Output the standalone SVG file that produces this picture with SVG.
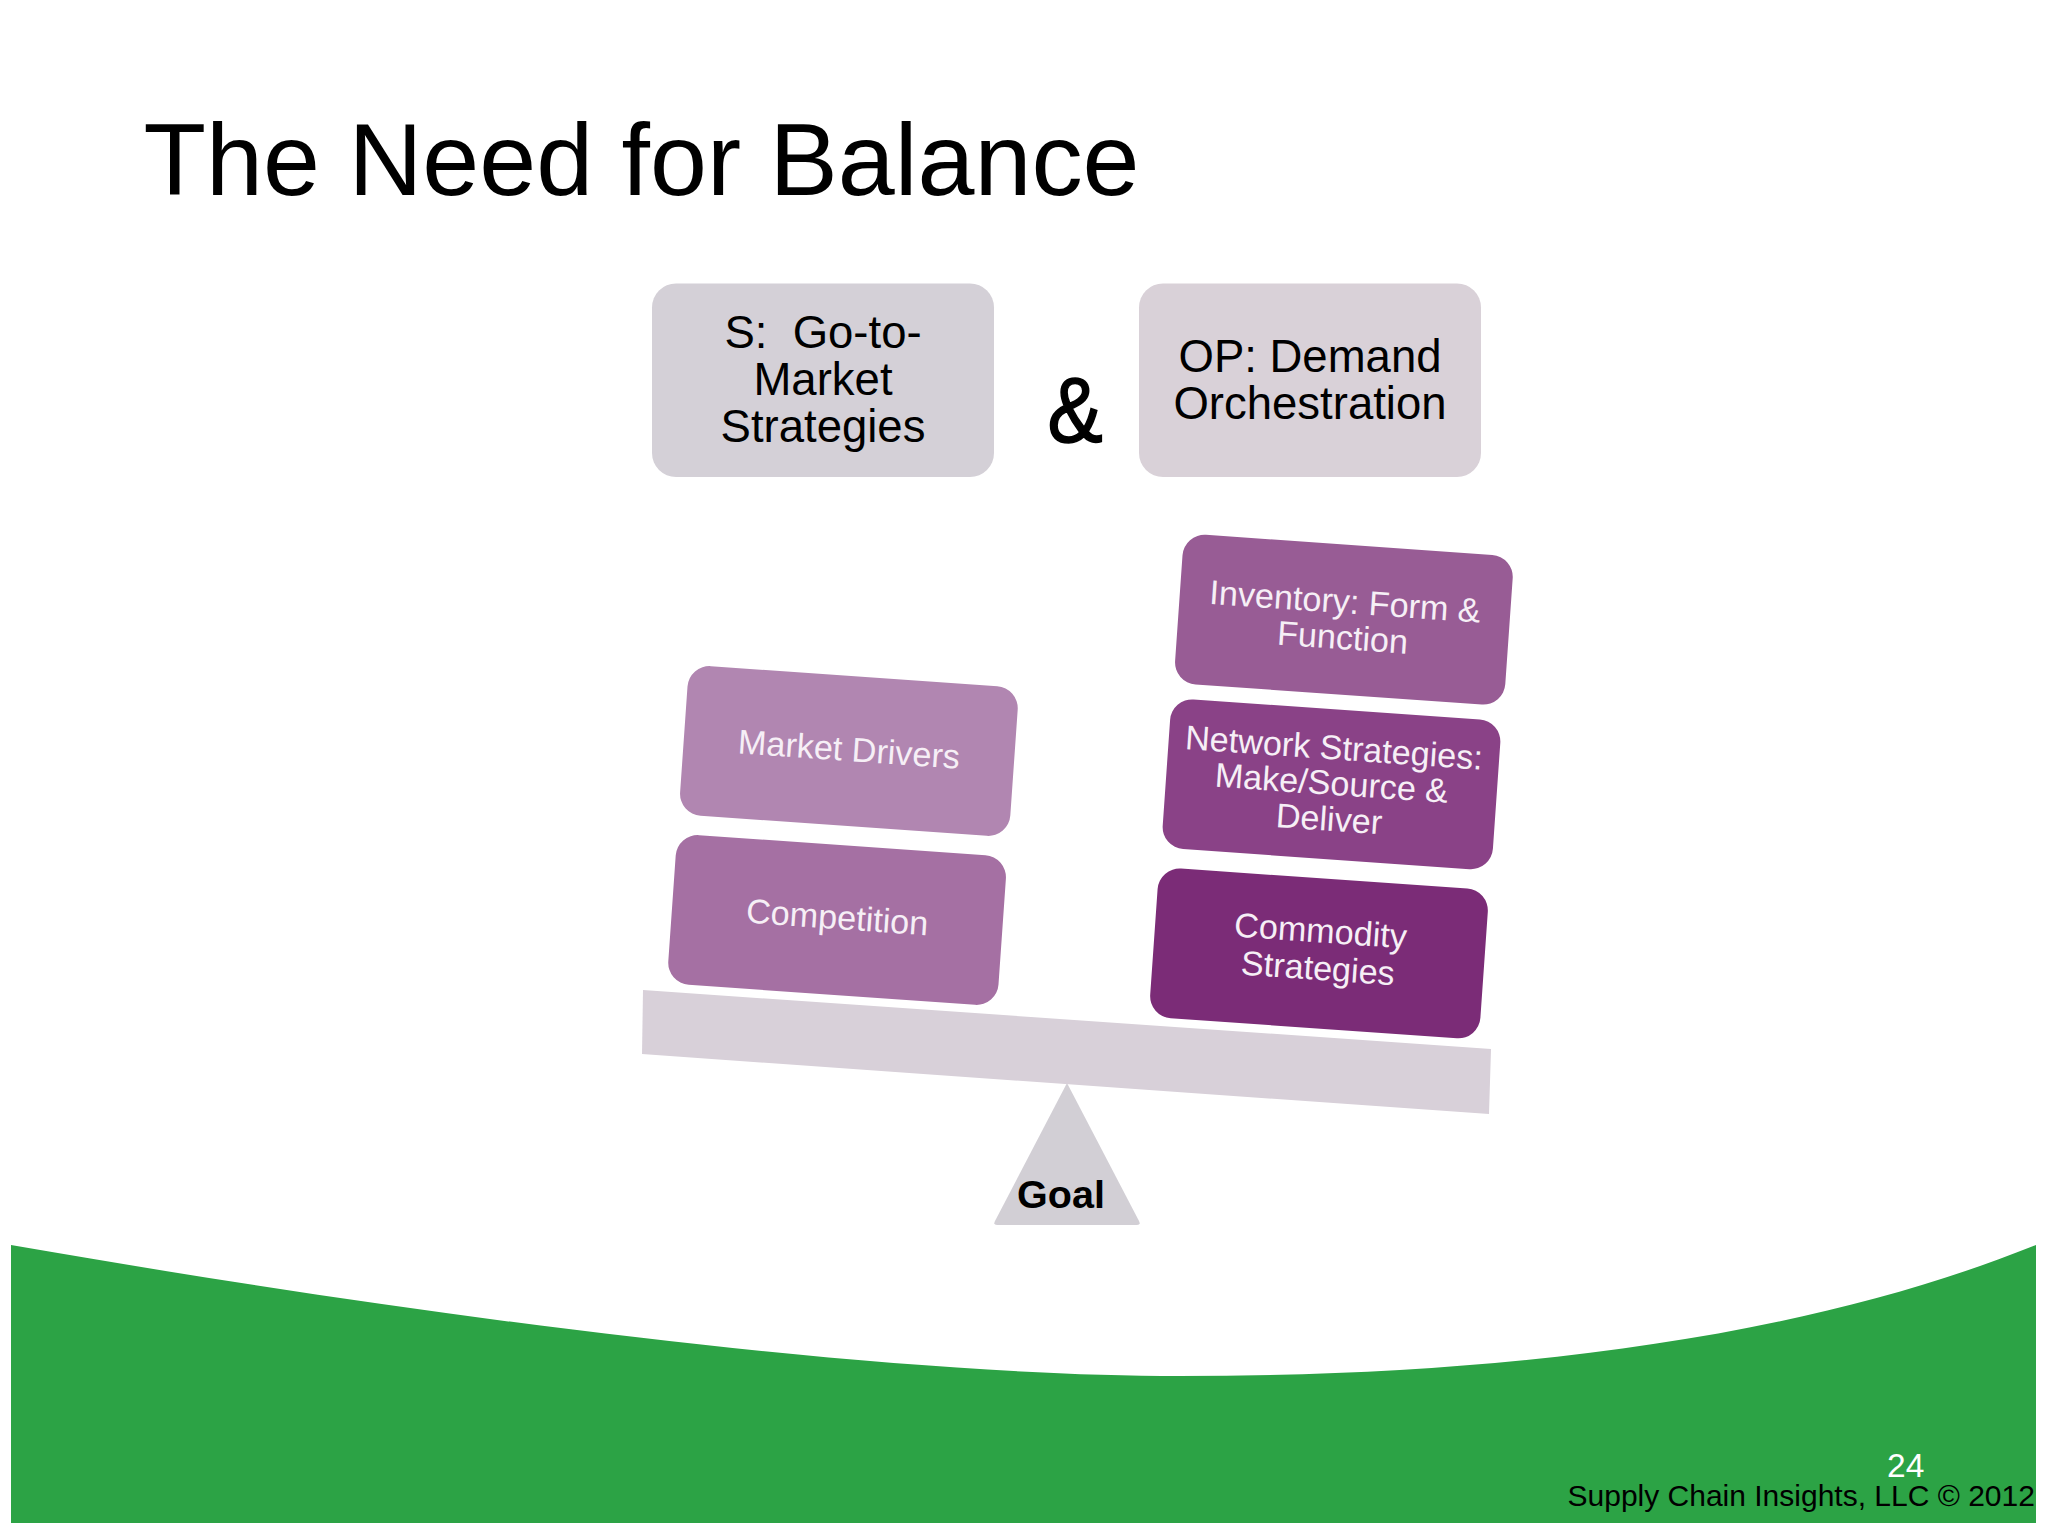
<svg xmlns="http://www.w3.org/2000/svg" width="2048" height="1536" viewBox="0 0 2048 1536">
<defs>
<style>
text{font-family:"Liberation Sans",Arial,sans-serif;white-space:pre}
.m{text-anchor:middle}
.b{font-size:45.5px;fill:#000}
.t{font-size:34.2px;fill:#f6eff6}
.card{x:-165.5px;y:-75px;width:331px;height:150px;rx:22px;ry:22px}
</style>
</defs>
<rect width="2048" height="1536" fill="#fff"/>
<path id="green-band" d="M11 1245C400 1313 870 1376 1180 1376C1500 1376 1800 1340 2036 1245V1523H11Z" fill="#2ca345"/>
<text id="title" x="143.500" y="194.500" font-size="102.400" fill="#000">The Need for Balance</text>
<g id="box-s">
<rect x="652" y="283.500" width="342" height="193.500" rx="24" fill="#d4d0d7"/>
<text class="m b" x="823" y="348">S:  Go-to-</text>
<text class="m b" x="823" y="394.500">Market</text>
<text class="m b" x="823" y="441.500">Strategies</text>
</g>
<text id="amp" class="m" transform="translate(1075 442) scale(.92 1.02)" font-size="90" fill="#000" stroke="#000" stroke-width="1.500">&amp;</text>
<g id="box-op">
<rect x="1139" y="283.500" width="342" height="193.500" rx="24" fill="#d9d1d8"/>
<text class="m b" x="1310" y="372">OP: Demand</text>
<text class="m b" x="1310" y="419">Orchestration</text>
</g>
<g id="fulcrum">
<path d="M1067 1083L1139 1221Q1141 1225 1137 1225H997Q993 1225 995 1221Z" fill="#d2cfd5"/>
<text x="1061" y="1208" class="m" font-size="39.500" font-weight="700" fill="#000">Goal</text>
</g>
<path id="beam" d="M643 990L1491 1049L1489 1114L642 1054Z" fill="#d8d0d9"/>
<g id="market-drivers" transform="translate(848.900 751) rotate(4)">
<rect class="card" fill="#b186b1"/>
<text class="m t" y="10">Market Drivers</text>
</g>
<g id="competition" transform="translate(837.100 920) rotate(4)">
<rect class="card" fill="#a570a3"/>
<text class="m t" y="9">Competition</text>
</g>
<g id="inventory" transform="translate(1343.900 619.700) rotate(4)">
<rect class="card" fill="#985c95"/>
<text class="m t" y="-6.500">Inventory: Form &amp;</text>
<text class="m t" y="29.500">Function</text>
</g>
<g id="network" transform="translate(1331.500 784.300) rotate(4)">
<rect class="card" fill="#8a4287"/>
<text class="m t" y="-25">Network Strategies:</text>
<text class="m t" y="10.500">Make/Source &amp;</text>
<text class="m t" y="46.500">Deliver</text>
</g>
<g id="commodity" transform="translate(1319 953.400) rotate(4)">
<rect class="card" fill="#7b2c77"/>
<text class="m t" y="-11">Commodity</text>
<text class="m t" y="26.500">Strategies</text>
</g>
<g id="connectors"/>
<text id="page" x="1887" y="1477" font-size="33.500" fill="#fff">24</text>
<text id="footer" x="1567.500" y="1506" font-size="30" fill="#000">Supply Chain Insights, LLC © 2012</text>
</svg>
